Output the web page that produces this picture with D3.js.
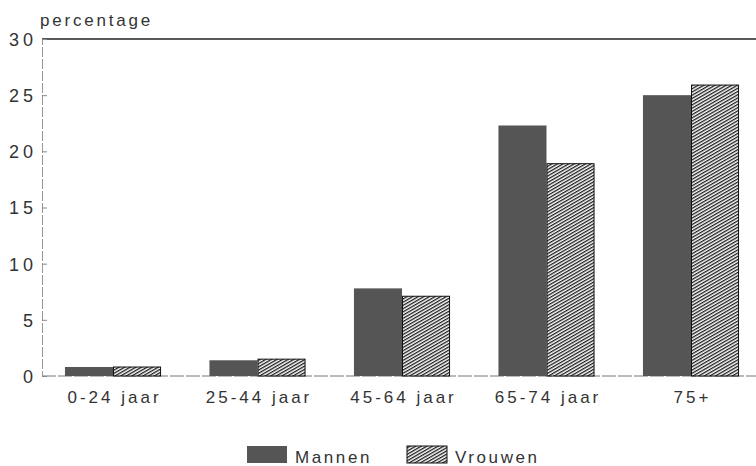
<!DOCTYPE html>
<html><head><meta charset="utf-8">
<script src="https://cdn.jsdelivr.net/npm/d3@7"></script>
<style>body{margin:0;background:#fff}svg{display:block}text{font-family:"Liberation Sans",Arial,sans-serif;fill:#333}</style>
</head><body><svg id="c" width="756" height="466"></svg>
<script>
const categories = ["0-24 jaar","25-44 jaar","45-64 jaar","65-74 jaar","75+"];
const mannen = [0.8, 1.4, 7.8, 22.3, 25.0];
const vrouwen = [0.8, 1.5, 7.1, 18.9, 25.9];
const seriesNames = ["Mannen","Vrouwen"];
const yTicks = [0,5,10,15,20,25,30];

const svg = d3.select("#c");
const defs = svg.append("defs");
const pat = defs.append("pattern").attr("id","hatch").attr("patternUnits","userSpaceOnUse")
  .attr("width",2.8).attr("height",2.8).attr("patternTransform","rotate(60)");
pat.append("rect").attr("width",2.8).attr("height",2.8).attr("fill","#fff");
pat.append("rect").attr("width",1.3).attr("height",2.8).attr("fill","#1a1a1a");

const x0 = d3.scaleBand().domain(categories).range([40.75, 763.25]).paddingInner(0.335).paddingOuter(0.1675);
const x1 = d3.scaleBand().domain(seriesNames).range([0, x0.bandwidth()]);
const y = d3.scaleLinear().domain([0,30]).range([376, 39]);

svg.append("line").attr("x1",42).attr("x2",756).attr("y1",y(30)).attr("y2",y(30)).attr("stroke","#222").attr("stroke-width",1.3);
svg.append("line").attr("x1",42).attr("x2",756).attr("y1",y(0)).attr("y2",y(0)).attr("stroke","#777").attr("stroke-width",1).attr("stroke-dasharray","14,2");

const yAxis = d3.axisRight(y).tickValues(yTicks).tickSize(5).tickFormat(d3.format("d"));
const ga = svg.append("g").attr("transform","translate(42,0)").call(yAxis);
ga.select(".domain").attr("stroke","#999").attr("stroke-dasharray","10,2");
ga.selectAll(".tick line").attr("stroke","#888");
ga.selectAll(".tick text").attr("x",-5).attr("text-anchor","end").attr("dy","0.36em")
  .style("font-size","18px").style("letter-spacing","4px").style("fill","#333");

svg.append("text").attr("x",40).attr("y",26).text("percentage").style("font-size","17px").style("letter-spacing","2.8px");

const groups = svg.append("g").selectAll("g").data(categories).join("g")
  .attr("transform",d=>`translate(${x0(d)},0)`);
groups.append("rect").attr("x",x1("Mannen")).attr("width",x1.bandwidth())
  .attr("y",(d,i)=>y(mannen[i])).attr("height",(d,i)=>y(0)-y(mannen[i])).attr("fill","#555");
groups.append("rect").attr("x",x1("Vrouwen")+0.5).attr("width",x1.bandwidth()-1)
  .attr("y",(d,i)=>y(vrouwen[i])).attr("height",(d,i)=>y(0)-y(vrouwen[i]))
  .attr("fill","url(#hatch)").attr("stroke","#111").attr("stroke-width",1);

const xAxis = d3.axisBottom(x0).tickSize(0);
const gx = svg.append("g").attr("transform",`translate(0,${y(0)})`).call(xAxis);
gx.select(".domain").remove();
gx.selectAll(".tick text").attr("dy","0").attr("y",27).attr("x",1.5)
  .style("font-size","17px").style("letter-spacing","3px").style("fill","#333");

const lg = svg.append("g");
const legX = [247, 407];
seriesNames.forEach((s,i)=>{
  lg.append("rect").attr("x",legX[i]).attr("y",446).attr("width",40).attr("height",17)
    .attr("fill", i===0?"#555":"url(#hatch)").attr("stroke", i===0?"none":"#111");
  lg.append("text").attr("x",legX[i]+48).attr("y",463).text(s).style("font-size","17px").style("letter-spacing","2.6px");
});
</script></body></html>
